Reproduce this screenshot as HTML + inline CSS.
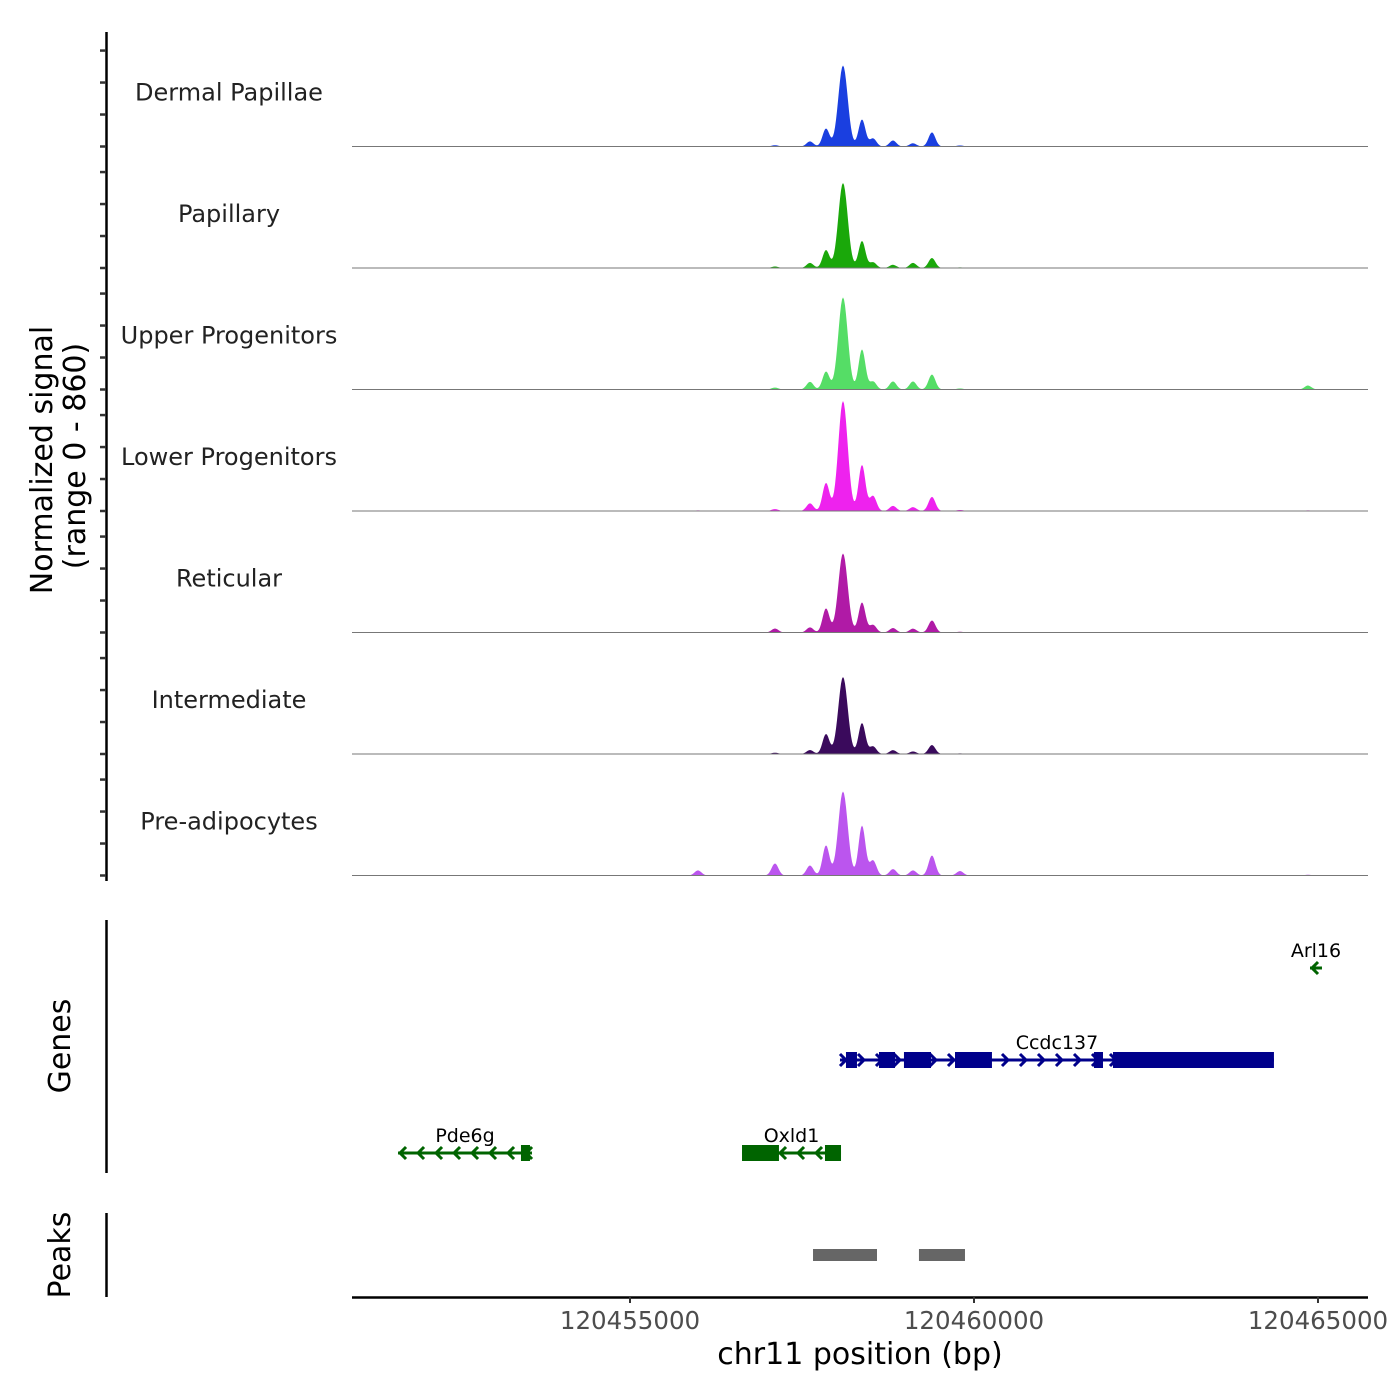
<!DOCTYPE html>
<html><head><meta charset="utf-8"><style>
html,body{margin:0;padding:0;background:#fff}
svg{display:block;font-family:"DejaVu Sans","Liberation Sans",sans-serif}
</style></head><body>
<svg id="chart" width="1400" height="1400" viewBox="0 0 1400 1400" xmlns="http://www.w3.org/2000/svg">
<rect width="1400" height="1400" fill="#fff"/>
<text transform="translate(52,460) rotate(-90)" text-anchor="middle" font-size="30" fill="#000">Normalized signal</text>
<text transform="translate(85,456) rotate(-90)" text-anchor="middle" font-size="30" fill="#000">(range 0 - 860)</text>
<text transform="translate(70,1046) rotate(-90)" text-anchor="middle" font-size="30" fill="#000">Genes</text>
<text transform="translate(70,1255) rotate(-90)" text-anchor="middle" font-size="30" fill="#000">Peaks</text>
<line x1="106.5" y1="32" x2="106.5" y2="881" stroke="#000" stroke-width="2.5"/>
<line x1="106.5" y1="920" x2="106.5" y2="1173" stroke="#000" stroke-width="2.5"/>
<line x1="106.5" y1="1213" x2="106.5" y2="1297" stroke="#000" stroke-width="2.5"/>
<line x1="352" y1="1297.5" x2="1368" y2="1297.5" stroke="#000" stroke-width="2.5"/>
<text x="860" y="1364" text-anchor="middle" font-size="30" fill="#000">chr11 position (bp)</text>
<g id="tracks"></g><g id="genes"></g><g id="peaks"></g><g id="xticks"></g>
</svg>
<script>
// ---- data ----
const regionStart = 120450959, regionEnd = 120465727;
const xTickValues = [120455000, 120460000, 120465000];
const trackNames = ["Dermal Papillae","Papillary","Upper Progenitors","Lower Progenitors","Reticular","Intermediate","Pre-adipocytes"];
const trackColors = ["#1a3fe0","#1aa80a","#55dd66","#ee22ee","#b01aa6","#3a0a5c","#bb55ee"];
const peakCenters = [120455988,120457107,120457616,120457849,120458096,120458372,120458532,120458822,120459113,120459389,120459796,120464854];
const dermalValues =       [4, 10, 40,140,633,211, 63, 47, 25,110, 8, 3];
const papillaryValues =    [3, 12, 40,140,665,211, 45, 25, 40, 78, 5, 4];
const upperValues =        [4, 15, 60,140,720,313, 63, 63, 63,117, 8,31];
const lowerValues =        [5, 15, 60,219,860,360,118, 40, 30,110, 8, 5];
const reticularValues =    [4, 31, 40,188,618,235, 60, 35, 30, 94, 6, 4];
const intermediateValues = [3, 10, 31,156,602,242, 60, 30, 20, 70, 5, 3];
const preadipoValues =     [40, 94, 78,235,657,390,118, 50, 40,156,35, 6];
const seriesValues = [dermalValues,papillaryValues,upperValues,lowerValues,reticularValues,intermediateValues,preadipoValues];
const yMax = 860;
const yTickValues = [0, 250, 500, 750];
const geneNames = ["Ccdc137","Pde6g","Oxld1","Arl16"];
const geneStarts = [120458052,120451628,120456628,120464884];
const geneEnds   = [120464360,120453575,120458067,120465058];
const geneStrands = ["+","-","-","-"];
const geneRows = [1,2,2,0];
const geneExons = [
  [[120458139,120458299],[120458619,120458852],[120458982,120459375],[120459724,120460261],[120461744,120461875],[120462020,120464360]],
  [[120453415,120453546]],
  [[120456628,120457165],[120457834,120458067]],
  []
];
const peakStarts = [120457660,120459200];
const peakEnds   = [120458590,120459869];

// ---- scales ----
const X0=352, X1=1368;
const xs = v => X0 + (v-regionStart)/(regionEnd-regionStart)*(X1-X0);
const trackH = 121.5, trackTop0 = 25, plotH = 110;
const baseline = i => trackTop0 + (i+1)*trackH;
const ys = (i,v) => baseline(i) - v/yMax*plotH;
const NS="http://www.w3.org/2000/svg";
function mk(tag,attrs,parent){const e=document.createElementNS(NS,tag);for(const k in attrs)e.setAttribute(k,attrs[k]);parent.appendChild(e);return e;}

const gT=document.getElementById('tracks');
const sigmaBp = 50;
trackNames.forEach((name,i)=>{
  const vals=seriesValues[i];
  let d=`M${X0},${baseline(i)}`;
  for(let px=X0;px<=X1;px+=1){
    const bp=regionStart+(px-X0)/(X1-X0)*(regionEnd-regionStart);
    let v=0;
    peakCenters.forEach((c,k)=>{const s=k===4?68:sigmaBp;v+=vals[k]*Math.exp(-0.5*((bp-c)/s)**2);});
    d+=`L${px},${ys(i,Math.min(v,yMax)).toFixed(2)}`;
  }
  d+=`L${X1},${baseline(i)}Z`;
  const p=mk('path',{d:d,fill:trackColors[i]},gT);
  
  
  const bl=mk('line',{x1:X0,x2:X1,y1:baseline(i),y2:baseline(i),stroke:'#777','stroke-width':1},gT);
  
  
  const t=mk('text',{x:229,y:baseline(i)-46,'text-anchor':'middle','font-size':24,fill:'#222'},gT);
  t.textContent=name;
  
  
  yTickValues.forEach(tv=>{
    const tk=mk('line',{x1:100,x2:106,y1:ys(i,tv),y2:ys(i,tv),stroke:'#333','stroke-width':2.5},gT);
    
    
  });
});

// genes
const gG=document.getElementById('genes');
const rowY=[968,1060,1153];
geneNames.forEach((g,i)=>{
  const y=rowY[geneRows[i]], col=geneRows[i]===1?'#00008b':'#006400';
  const grp=mk('g',{},gG);
  
  
  const x1=xs(geneStarts[i]), x2=xs(geneEnds[i]);
  mk('line',{x1:x1,x2:x2,y1:y,y2:y,stroke:col,'stroke-width':3},grp);
  const dir=geneStrands[i]==='+'?1:-1;
  const step=18;
  for(let x=x1+4;x<=x2-2;x+=step){
    mk('polyline',{points:`${x-4*dir},${y-6} ${x+2*dir},${y} ${x-4*dir},${y+6}`,fill:'none',stroke:col,'stroke-width':3},grp);
  }
  geneExons[i].forEach(e=>{mk('rect',{x:xs(e[0]),y:y-8,width:Math.max(3,xs(e[1])-xs(e[0])),height:16,fill:col},grp);});
  const t=mk('text',{x:(x1+x2)/2,y:y-11,'text-anchor':'middle','font-size':19,fill:'#000'},grp);
  t.textContent=g;
  
  
});

// peaks
const gP=document.getElementById('peaks');
peakStarts.forEach((s,i)=>{
  const r=mk('rect',{x:xs(s),y:1249,width:xs(peakEnds[i])-xs(s),height:12,fill:'#666'},gP);
  
  
});

// x ticks
const gX=document.getElementById('xticks');
xTickValues.forEach(v=>{
  const l=mk('line',{x1:xs(v),x2:xs(v),y1:1297,y2:1303,stroke:'#333','stroke-width':2},gX);
  
  
  const t=mk('text',{x:xs(v),y:1329,'text-anchor':'middle','font-size':24.5,fill:'#4d4d4d'},gX);
  t.textContent=String(v);
  
  
});
</script>
</body></html>
